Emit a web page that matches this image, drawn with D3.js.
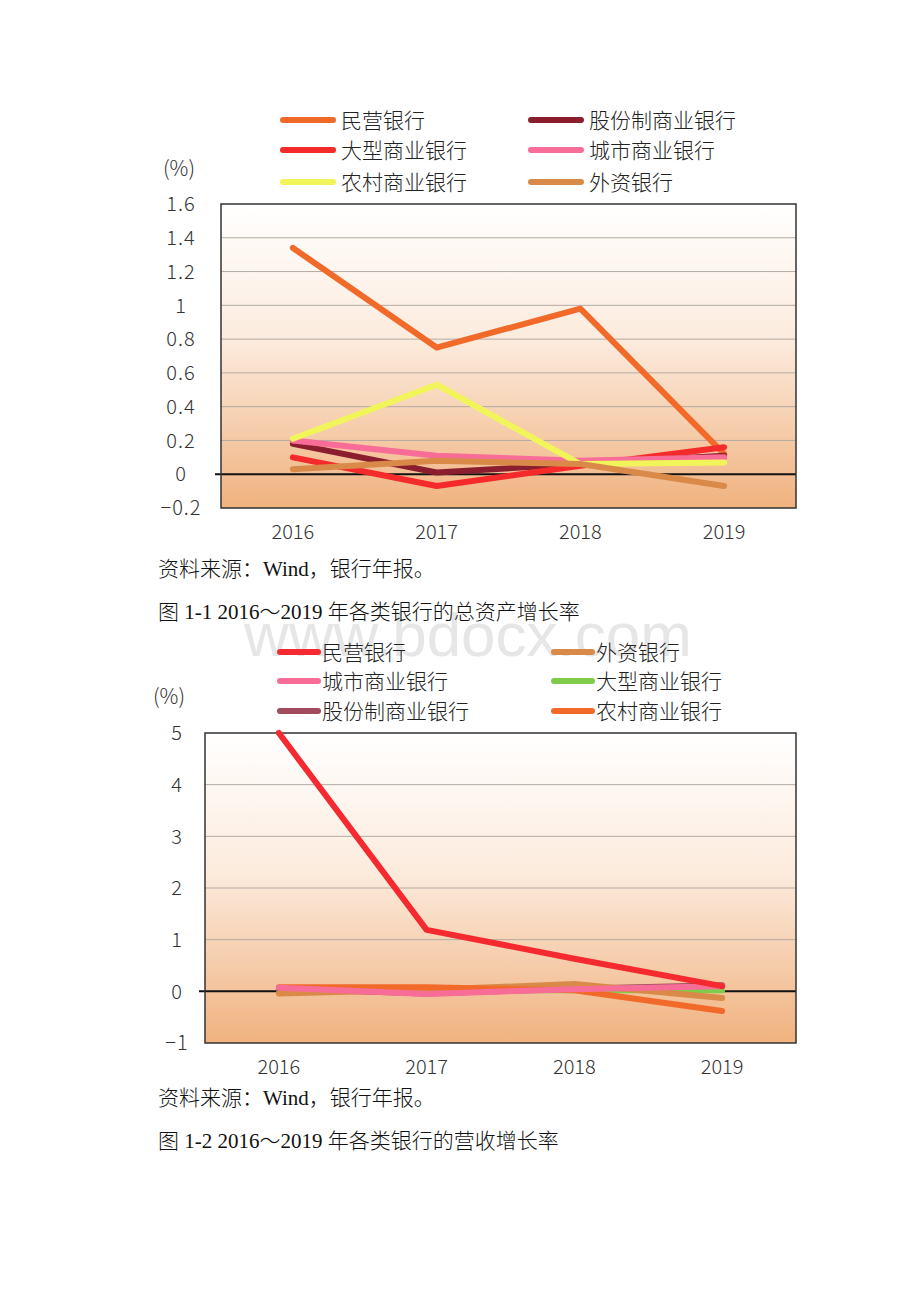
<!DOCTYPE html>
<html>
<head>
<meta charset="utf-8">
<script src="https://cdn.jsdelivr.net/npm/d3@7"></script>
<style>
  html, body { margin: 0; padding: 0; background: #fff; }
  svg { display: block; }
</style>
</head>
<body>
<div id="page"></div>
<script>
// ---- Data ----
const years = ["2016", "2017", "2018", "2019"];

// 图 1-1 总资产增长率 (%)
const assetBanks = ["民营银行", "股份制商业银行", "大型商业银行", "城市商业银行", "农村商业银行", "外资银行"];
const assetPrivate    = [1.34, 0.75, 0.98, 0.12];
const assetJointStock = [0.18, 0.01, 0.06, 0.11];
const assetLarge      = [0.10, -0.07, 0.05, 0.16];
const assetCity       = [0.20, 0.11, 0.08, 0.10];
const assetRural      = [0.21, 0.53, 0.06, 0.07];
const assetForeign    = [0.03, 0.08, 0.06, -0.07];
const assetTicks = [-0.2, 0, 0.2, 0.4, 0.6, 0.8, 1, 1.2, 1.4, 1.6];

// 图 1-2 营收增长率 (%)
const revenueBanks = ["民营银行", "外资银行", "城市商业银行", "大型商业银行", "股份制商业银行", "农村商业银行"];
const revPrivate    = [5.0, 1.19, 0.63, 0.10];
const revForeign    = [-0.04, 0.03, 0.14, -0.13];
const revCity       = [0.07, -0.05, 0.04, 0.10];
const revLarge      = [0.04, 0.02, 0.02, 0.02];
const revJointStock = [0.05, -0.04, 0.05, 0.12];
const revRural      = [0.08, 0.08, 0.02, -0.38];
const revenueTicks = [-1, 0, 1, 2, 3, 4, 5];

const W = 920, H = 1302;
const tickFont = "'Noto Sans CJK SC', 'DejaVu Sans', sans-serif";
const captionFont = "'Liberation Serif', 'Noto Sans CJK SC', serif";

const svg = d3.select("#page").append("svg")
  .attr("width", W).attr("height", H)
  .attr("viewBox", [0, 0, W, H]);

const defs = svg.append("defs");
const grad = defs.append("linearGradient")
  .attr("id", "bg").attr("x1", 0).attr("y1", 0).attr("x2", 0).attr("y2", 1);
grad.append("stop").attr("offset", "0%").attr("stop-color", "#ffffff");
grad.append("stop").attr("offset", "45%").attr("stop-color", "#fcebdd");
grad.append("stop").attr("offset", "100%").attr("stop-color", "#f0b27f");

// watermark (faint, sits behind everything)
svg.append("text")
  .attr("x", 468).attr("y", 656)
  .attr("text-anchor", "middle")
  .attr("font-family", "'Liberation Sans', Arial, sans-serif")
  .attr("font-size", 62)
  .attr("fill", "#e6e6e6")
  .text("www.bdocx.com");

function drawChart(cfg) {
  const { plot, domain, ticks, fmt, series, legend, drawOrder } = cfg;
  const g = svg.append("g");

  const x = d3.scalePoint(years, [plot.left, plot.right]).padding(0.5);
  const y = d3.scaleLinear(domain, [plot.bottom, plot.top]);

  // background
  g.append("rect")
    .attr("x", plot.left).attr("y", plot.top)
    .attr("width", plot.right - plot.left).attr("height", plot.bottom - plot.top)
    .attr("fill", "url(#bg)");

  // gridlines
  g.append("g").selectAll("line")
    .data(ticks.filter(t => t !== 0 && t !== domain[0] && t !== domain[1]))
    .join("line")
    .attr("x1", plot.left).attr("x2", plot.right)
    .attr("y1", d => y(d)).attr("y2", d => y(d))
    .attr("stroke", "#b3aaa3").attr("stroke-width", 1);

  // zero line
  g.append("line")
    .attr("x1", plot.left - 6).attr("x2", plot.right)
    .attr("y1", y(0)).attr("y2", y(0))
    .attr("stroke", "#111").attr("stroke-width", 2);

  // border
  g.append("rect")
    .attr("x", plot.left).attr("y", plot.top)
    .attr("width", plot.right - plot.left).attr("height", plot.bottom - plot.top)
    .attr("fill", "none").attr("stroke", "#333").attr("stroke-width", 1.5);

  // y tick labels
  g.append("g").selectAll("text")
    .data(ticks)
    .join("text")
    .attr("x", cfg.tickX)
    .attr("y", d => y(d))
    .attr("dy", "0.36em")
    .attr("text-anchor", "middle")
    .attr("font-family", tickFont)
    .attr("font-size", 20)
    .attr("font-weight", 300)
    .attr("letter-spacing", 1)
    .attr("fill", "#333")
    .text(fmt);

  // unit
  g.append("text")
    .attr("x", cfg.unitX).attr("y", cfg.unitY)
    .attr("font-family", tickFont)
    .attr("font-size", 21)
    .attr("font-weight", 300)
    .attr("fill", "#333")
    .text("(%)");

  // x labels
  g.append("g").selectAll("text")
    .data(years)
    .join("text")
    .attr("x", d => x(d))
    .attr("y", plot.bottom + 24)
    .attr("dy", "0.36em")
    .attr("text-anchor", "middle")
    .attr("font-family", tickFont)
    .attr("font-size", 20)
    .attr("font-weight", 300)
    .attr("fill", "#333")
    .text(d => d);

  // lines
  const line = d3.line().x((d, i) => x(years[i])).y(d => y(d));
  g.append("g").selectAll("path")
    .data(drawOrder.map(name => series.find(s => s.name === name)))
    .join("path")
    .attr("d", s => line(s.values))
    .attr("fill", "none")
    .attr("stroke", s => s.color)
    .attr("stroke-width", 6)
    .attr("stroke-linecap", "round")
    .attr("stroke-linejoin", "round");

  // legend
  const lg = g.append("g");
  const item = lg.selectAll("g")
    .data(series)
    .join("g")
    .attr("transform", (s, i) => `translate(${legend.cols[i % 2]},${legend.rows[Math.floor(i / 2)]})`);
  item.append("line")
    .attr("x1", 0).attr("x2", legend.swatch)
    .attr("stroke", s => s.color)
    .attr("stroke-width", 6)
    .attr("stroke-linecap", "round");
  item.append("text")
    .attr("x", legend.swatch + legend.gap)
    .attr("dy", "0.36em")
    .attr("font-family", tickFont)
    .attr("font-size", 21)
    .attr("font-weight", 300)
    .attr("fill", "#222")
    .text(s => s.name);

  // captions
  cfg.captions.forEach(c => {
    svg.append("text")
      .attr("x", 158).attr("y", c.y)
      .attr("font-family", captionFont)
      .attr("font-size", 21)
      .attr("font-weight", 300)
      .attr("fill", "#111")
      .text(c.text);
  });
}

const assetColors = ["#f26a2a", "#8b1e2e", "#f52a2a", "#f76d98", "#f2f55a", "#d98a48"];
const assetValues = [assetPrivate, assetJointStock, assetLarge, assetCity, assetRural, assetForeign];

drawChart({
  plot: { left: 221, right: 796, top: 204, bottom: 508 },
  domain: [-0.2, 1.6],
  ticks: assetTicks,
  fmt: d => d === 0 ? "0" : (d < 0 ? "−" + Math.abs(d) : String(d)),
  tickX: 181,
  unitX: 163, unitY: 176,
  series: assetBanks.map((name, i) => ({ name, values: assetValues[i], color: assetColors[i] })),
  drawOrder: assetBanks,
  legend: { cols: [283, 531], rows: [120, 150, 182], swatch: 50, gap: 8 },
  captions: [
    { y: 576, text: "资料来源：Wind，银行年报。" },
    { y: 619, text: "图 1-1 2016～2019 年各类银行的总资产增长率" }
  ]
});

const revenueColors = ["#f52a30", "#d98a48", "#f76d98", "#7fcc4a", "#a04a5c", "#f26a2a"];
const revenueValues = [revPrivate, revForeign, revCity, revLarge, revJointStock, revRural];

drawChart({
  plot: { left: 205, right: 796, top: 733, bottom: 1043 },
  domain: [-1, 5],
  ticks: revenueTicks,
  fmt: d => d < 0 ? "−" + Math.abs(d) : String(d),
  tickX: 177,
  unitX: 153, unitY: 704,
  series: revenueBanks.map((name, i) => ({ name, values: revenueValues[i], color: revenueColors[i] })),
  drawOrder: ["大型商业银行", "股份制商业银行", "外资银行", "农村商业银行", "城市商业银行", "民营银行"],
  legend: { cols: [280, 554], rows: [652, 681, 711], swatch: 38, gap: 4 },
  captions: [
    { y: 1105, text: "资料来源：Wind，银行年报。" },
    { y: 1148, text: "图 1-2 2016～2019 年各类银行的营收增长率" }
  ]
});
</script>
</body>
</html>
